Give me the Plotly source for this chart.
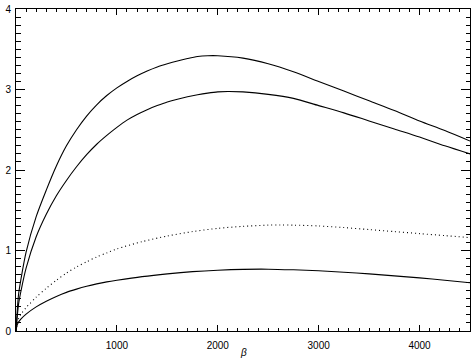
import plotly.graph_objects as go

# beta values and curves
beta_a = [0, 25, 50, 100, 200, 300, 400, 500, 600, 700, 800, 900, 1000, 1100, 1200, 1300, 1400, 1500, 1600, 1700, 1800, 1900, 2000, 2250, 2500, 2750, 3000, 3250, 3500, 3750, 4000, 4250, 4500]
curve_a = [0, 0.45, 0.65, 0.98, 1.42, 1.75, 2.05, 2.30, 2.50, 2.67, 2.81, 2.925, 3.02, 3.10, 3.17, 3.23, 3.28, 3.32, 3.355, 3.385, 3.41, 3.42, 3.42, 3.39, 3.32, 3.22, 3.10, 2.98, 2.86, 2.74, 2.61, 2.49, 2.36]

beta_b = [0, 25, 50, 100, 200, 300, 400, 500, 600, 700, 800, 900, 1000, 1100, 1200, 1300, 1400, 1500, 1600, 1700, 1800, 1900, 2000, 2100, 2250, 2500, 2750, 3000, 3250, 3500, 3750, 4000, 4250, 4500]
curve_b = [0, 0.33, 0.5, 0.78, 1.17, 1.45, 1.68, 1.87, 2.04, 2.19, 2.32, 2.43, 2.53, 2.62, 2.69, 2.75, 2.80, 2.845, 2.88, 2.91, 2.935, 2.955, 2.97, 2.975, 2.97, 2.94, 2.89, 2.80, 2.71, 2.61, 2.51, 2.41, 2.30, 2.20]

beta_c = [0, 25, 50, 100, 200, 300, 400, 500, 600, 700, 800, 900, 1000, 1250, 1500, 1750, 2000, 2250, 2500, 2620, 2750, 3000, 3250, 3500, 3750, 4000, 4250, 4500]
curve_c = [0, 0.15, 0.21, 0.29, 0.42, 0.53, 0.63, 0.72, 0.795, 0.86, 0.92, 0.97, 1.02, 1.11, 1.18, 1.235, 1.275, 1.30, 1.315, 1.317, 1.315, 1.305, 1.285, 1.26, 1.235, 1.21, 1.185, 1.16]

beta_d = [0, 10, 25, 50, 100, 200, 300, 400, 500, 600, 700, 800, 900, 1000, 1250, 1500, 1750, 2000, 2250, 2500, 2750, 3000, 3250, 3500, 3750, 4000, 4250, 4500]
curve_d = [0, 0.07, 0.11, 0.15, 0.21, 0.30, 0.37, 0.43, 0.48, 0.52, 0.555, 0.585, 0.61, 0.63, 0.675, 0.71, 0.737, 0.755, 0.766, 0.768, 0.76, 0.748, 0.73, 0.71, 0.685, 0.66, 0.63, 0.60]

x_tickvals = [0, 1000, 2000, 3000, 4000]
x_ticktext = ["", "1000", "2000", "3000", "4000"]
y_tickvals = [0, 1, 2, 3, 4]
y_ticktext = ["0", "1", "2", "3", "4"]

fig = go.Figure()
for bx, cy, dash in [(beta_a, curve_a, "solid"), (beta_b, curve_b, "solid"),
                     (beta_c, curve_c, "1px,3px"), (beta_d, curve_d, "solid")]:
    fig.add_trace(go.Scatter(x=bx, y=cy, mode="lines",
                             line=dict(color="black", width=1.1, dash=dash, shape="spline", smoothing=0.8)))

font = dict(family="Liberation Sans, Arial, sans-serif", size=10, color="black")

fig.update_layout(
    width=476, height=358,
    margin=dict(l=16, r=6, t=9, b=27),
    plot_bgcolor="white", paper_bgcolor="white",
    showlegend=False,
    font=font,
    xaxis=dict(
        range=[0, 4500], showgrid=False, zeroline=False, automargin=False,
        showline=True, linecolor="black", linewidth=1, mirror="ticks",
        ticks="inside", ticklen=6, tickwidth=1, tickcolor="black",
        tickvals=x_tickvals, ticktext=x_ticktext,
        minor=dict(dtick=100, ticks="inside", ticklen=3, tickcolor="black", tickwidth=1, showgrid=False),
        ticklabelstandoff=5,
    ),
    yaxis=dict(
        range=[0, 4], showgrid=False, zeroline=False, automargin=False,
        showline=True, linecolor="black", linewidth=1, mirror="ticks",
        ticks="inside", ticklen=9, tickwidth=1, tickcolor="black",
        tickvals=y_tickvals, ticktext=y_ticktext,
        minor=dict(dtick=0.1, ticks="inside", ticklen=4.5, tickcolor="black", tickwidth=1, showgrid=False),
        ticklabelstandoff=2,
    ),
    annotations=[dict(text="<i>β</i>", xref="paper", yref="paper", x=0.5, y=0,
                      yshift=-21, xanchor="center", yanchor="middle", showarrow=False,
                      font=dict(size=10, color="black"))],
)

fig.write_html("out.html")
